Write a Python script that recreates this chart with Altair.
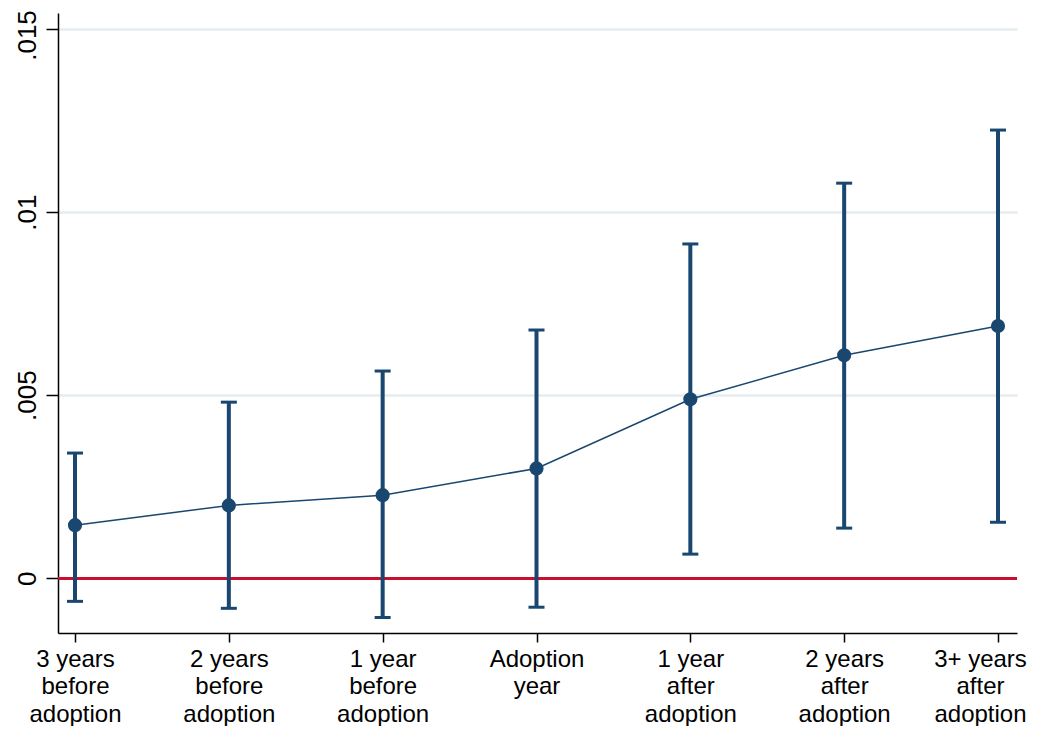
import altair as alt
import pandas as pd

# Data
labels = [
    "3 years\nbefore\nadoption",
    "2 years\nbefore\nadoption",
    "1 year\nbefore\nadoption",
    "Adoption\nyear",
    "1 year\nafter\nadoption",
    "2 years\nafter\nadoption",
    "3+ years\nafter\nadoption",
]
estimates = [0.00145, 0.00199, 0.00227, 0.00300, 0.00489, 0.00609, 0.00689]
ci_low = [-0.00063, -0.00082, -0.00107, -0.00079, 0.00066, 0.00137, 0.00153]
ci_high = [0.00342, 0.00481, 0.00566, 0.00678, 0.00913, 0.01079, 0.01224]
y_ticks = [0, 0.005, 0.01, 0.015]

positions = list(range(1, len(labels) + 1))
df = pd.DataFrame({
    "pos": positions,
    "label": labels,
    "est": estimates,
    "lo": ci_low,
    "hi": ci_high,
})

NAVY = "#1a476f"
RED = "#c8102e"
FONT = "Liberation Sans"

# label expression from the label list (multi-line labels)
arr = "[" + ",".join(
    "[" + ",".join("'" + part + "'" for part in lab.split("\n")) + "]" for lab in labels
) + "]"
x_label_expr = f"{arr}[datum.value - 1]"

x_scale = alt.Scale(domain=[0.8895, 7.1235], nice=False, zero=False)
y_scale = alt.Scale(domain=[-0.001494, 0.015437], nice=False, zero=False)

x_axis = alt.Axis(
    values=positions,
    labelExpr=x_label_expr,
    title=None,
    grid=False,
    tickSize=9,
    tickColor="black",
    tickWidth=1.5,
    domainColor="black",
    domainWidth=1.5,
    labelFont=FONT,
    labelFontSize=24,
    labelLineHeight=27.5,
    labelColor="black",
    labelPadding=5,
    labelBaseline="top",
    labelAlign="center",
    labelOffset={"condition": {"test": f"datum.value == {len(labels)}", "value": -18}, "value": 0},
)
y_axis = alt.Axis(
    values=y_ticks,
    labelExpr="datum.value == 0 ? '0' : replace(toString(datum.value), '0.', '.')",
    title=None,
    grid=True,
    gridColor="#e4edef",
    gridWidth=2.5,
    tickSize=12,
    tickColor="black",
    tickWidth=1.5,
    domainColor="black",
    domainWidth=1.5,
    labelFont=FONT,
    labelFontSize=26,
    labelColor="black",
    labelAngle=270,
    labelAlign="center",
    labelBaseline="bottom",
    labelPadding=6,
    labelOffset={"condition": {"test": f"datum.value == {y_ticks[-1]}", "value": 6}, "value": 0},
)

base = alt.Chart(df)

axes_layer = base.mark_point(opacity=0).encode(
    x=alt.X("pos:Q", scale=x_scale, axis=x_axis),
    y=alt.Y("est:Q", scale=y_scale, axis=y_axis),
)

zero_line = base.mark_rule(color=RED, strokeWidth=2.5).encode(
    y=alt.datum(0, scale=y_scale),
)

bars = base.mark_rule(color=NAVY, strokeWidth=4).encode(
    x=alt.X("pos:Q", scale=x_scale),
    y=alt.Y("lo:Q", scale=y_scale),
    y2="hi:Q",
)
cap_lo = base.mark_tick(color=NAVY, orient="horizontal", size=16, thickness=3, opacity=1).encode(
    x=alt.X("pos:Q", scale=x_scale),
    y=alt.Y("lo:Q", scale=y_scale),
)
cap_hi = base.mark_tick(color=NAVY, orient="horizontal", size=16, thickness=3, opacity=1).encode(
    x=alt.X("pos:Q", scale=x_scale),
    y=alt.Y("hi:Q", scale=y_scale),
)
line = base.mark_line(color=NAVY, strokeWidth=1.5).encode(
    x=alt.X("pos:Q", scale=x_scale),
    y=alt.Y("est:Q", scale=y_scale),
)
points = base.mark_circle(color=NAVY, size=200, opacity=1).encode(
    x=alt.X("pos:Q", scale=x_scale),
    y=alt.Y("est:Q", scale=y_scale),
)

chart = alt.layer(axes_layer, zero_line, bars, cap_lo, cap_hi, line, points).properties(
    width=959,
    height=620,
    autosize=alt.AutoSizeParams(type="none"),
    padding={"left": 50, "top": 5, "right": 12, "bottom": 93},
    background="white",
).configure_view(stroke=None)

chart.save("out.html", embed_options={"renderer": "svg", "actions": False})
